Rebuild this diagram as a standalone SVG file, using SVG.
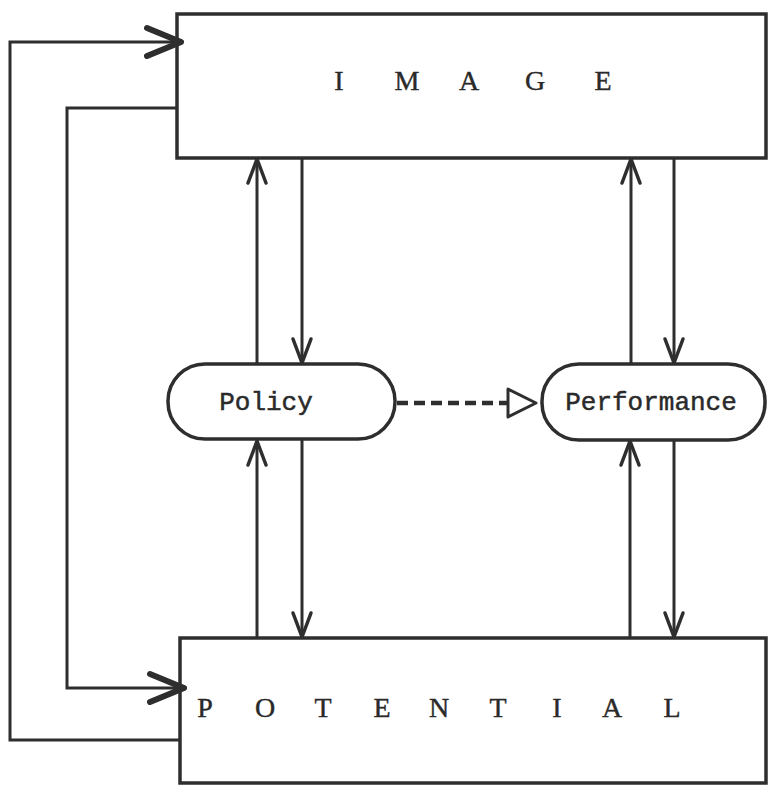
<svg xmlns="http://www.w3.org/2000/svg" width="768" height="785" viewBox="0 0 768 785">
  <style>
    .box { fill: #ffffff; stroke: #2e2e2e; stroke-width: 3.5; }
    .line { fill: none; stroke: #2e2e2e; stroke-width: 3; }
    .dash { fill: none; stroke: #2e2e2e; stroke-width: 4.5; stroke-dasharray: 11 6; }
    .label { font-family: "Liberation Mono", "DejaVu Sans Mono", monospace; font-size: 26px; fill: #2a2a2a; stroke: #2a2a2a; stroke-width: 0.5; }
    .title { font-family: "Liberation Serif", "DejaVu Serif", serif; font-size: 28px; fill: #2a2a2a; stroke: #2a2a2a; stroke-width: 0.4; text-anchor: middle; }
  </style>
  <defs>
    <!-- large open chevron used on the feedback loops -->
    <marker id="bigArrow" markerUnits="userSpaceOnUse" viewBox="-36 -18 40 36" refX="0" refY="0" markerWidth="40" markerHeight="36" orient="auto" overflow="visible">
      <path d="M -30 -14 L 4 0 L -30 14" fill="none" stroke="#2e2e2e" stroke-width="6" stroke-linecap="round" stroke-linejoin="round"/>
    </marker>
    <!-- small open chevron used on vertical links -->
    <marker id="smallArrow" markerUnits="userSpaceOnUse" viewBox="-28 -12 30 24" refX="0" refY="0" markerWidth="30" markerHeight="24" orient="auto" overflow="visible">
      <path d="M -24 -9 L 0 0 L -24 9" fill="none" stroke="#2e2e2e" stroke-width="3.5" stroke-linecap="round" stroke-linejoin="round"/>
    </marker>
  </defs>

  <rect width="768" height="785" fill="#ffffff"/>

  <g id="image">
    <rect class="box" x="177" y="14" width="589" height="144"/>
    <text class="title" y="90"><tspan x="339">I</tspan><tspan x="407">M</tspan><tspan x="469">A</tspan><tspan x="535">G</tspan><tspan x="603">E</tspan></text>
  </g>

  <g id="potential">
    <rect class="box" x="180" y="638" width="586" height="145"/>
    <text class="title" y="717"><tspan x="205">P</tspan><tspan x="265">O</tspan><tspan x="323">T</tspan><tspan x="382">E</tspan><tspan x="439">N</tspan><tspan x="498">T</tspan><tspan x="557">I</tspan><tspan x="612">A</tspan><tspan x="672">L</tspan></text>
  </g>

  <g id="policy">
    <rect class="box" x="168" y="364" width="227" height="75" rx="37" ry="37"/>
    <text class="label" x="266" y="410" text-anchor="middle">Policy</text>
  </g>

  <g id="performance">
    <rect class="box" x="542" y="364" width="223" height="76" rx="37" ry="37"/>
    <text class="label" x="651" y="410" text-anchor="middle">Performance</text>
  </g>

  <g id="connectors">
    <!-- outer loop: potential back to image -->
    <path class="line" d="M 180 740 L 10 740 L 10 42 L 177 42" marker-end="url(#bigArrow)"/>
    <!-- inner loop: image down to potential -->
    <path class="line" d="M 177 108 L 67 108 L 67 688 L 180 688" marker-end="url(#bigArrow)"/>

    <!-- policy links -->
    <line class="line" x1="257" y1="364" x2="257" y2="159" marker-end="url(#smallArrow)"/>
    <line class="line" x1="302" y1="158" x2="302" y2="363" marker-end="url(#smallArrow)"/>
    <line class="line" x1="257" y1="637" x2="257" y2="441" marker-end="url(#smallArrow)"/>
    <line class="line" x1="302" y1="439" x2="302" y2="637" marker-end="url(#smallArrow)"/>

    <!-- performance links -->
    <line class="line" x1="631" y1="364" x2="631" y2="159" marker-end="url(#smallArrow)"/>
    <line class="line" x1="674" y1="158" x2="674" y2="363" marker-end="url(#smallArrow)"/>
    <line class="line" x1="630" y1="637" x2="630" y2="441" marker-end="url(#smallArrow)"/>
    <line class="line" x1="674" y1="440" x2="674" y2="637" marker-end="url(#smallArrow)"/>

    <!-- dashed policy to performance link with hollow head -->
    <line class="dash" x1="397" y1="403" x2="508" y2="403"/>
    <path d="M 508 389 L 536 403 L 508 417 Z" fill="#ffffff" stroke="#2e2e2e" stroke-width="3" stroke-linejoin="round"/>
  </g>
</svg>
